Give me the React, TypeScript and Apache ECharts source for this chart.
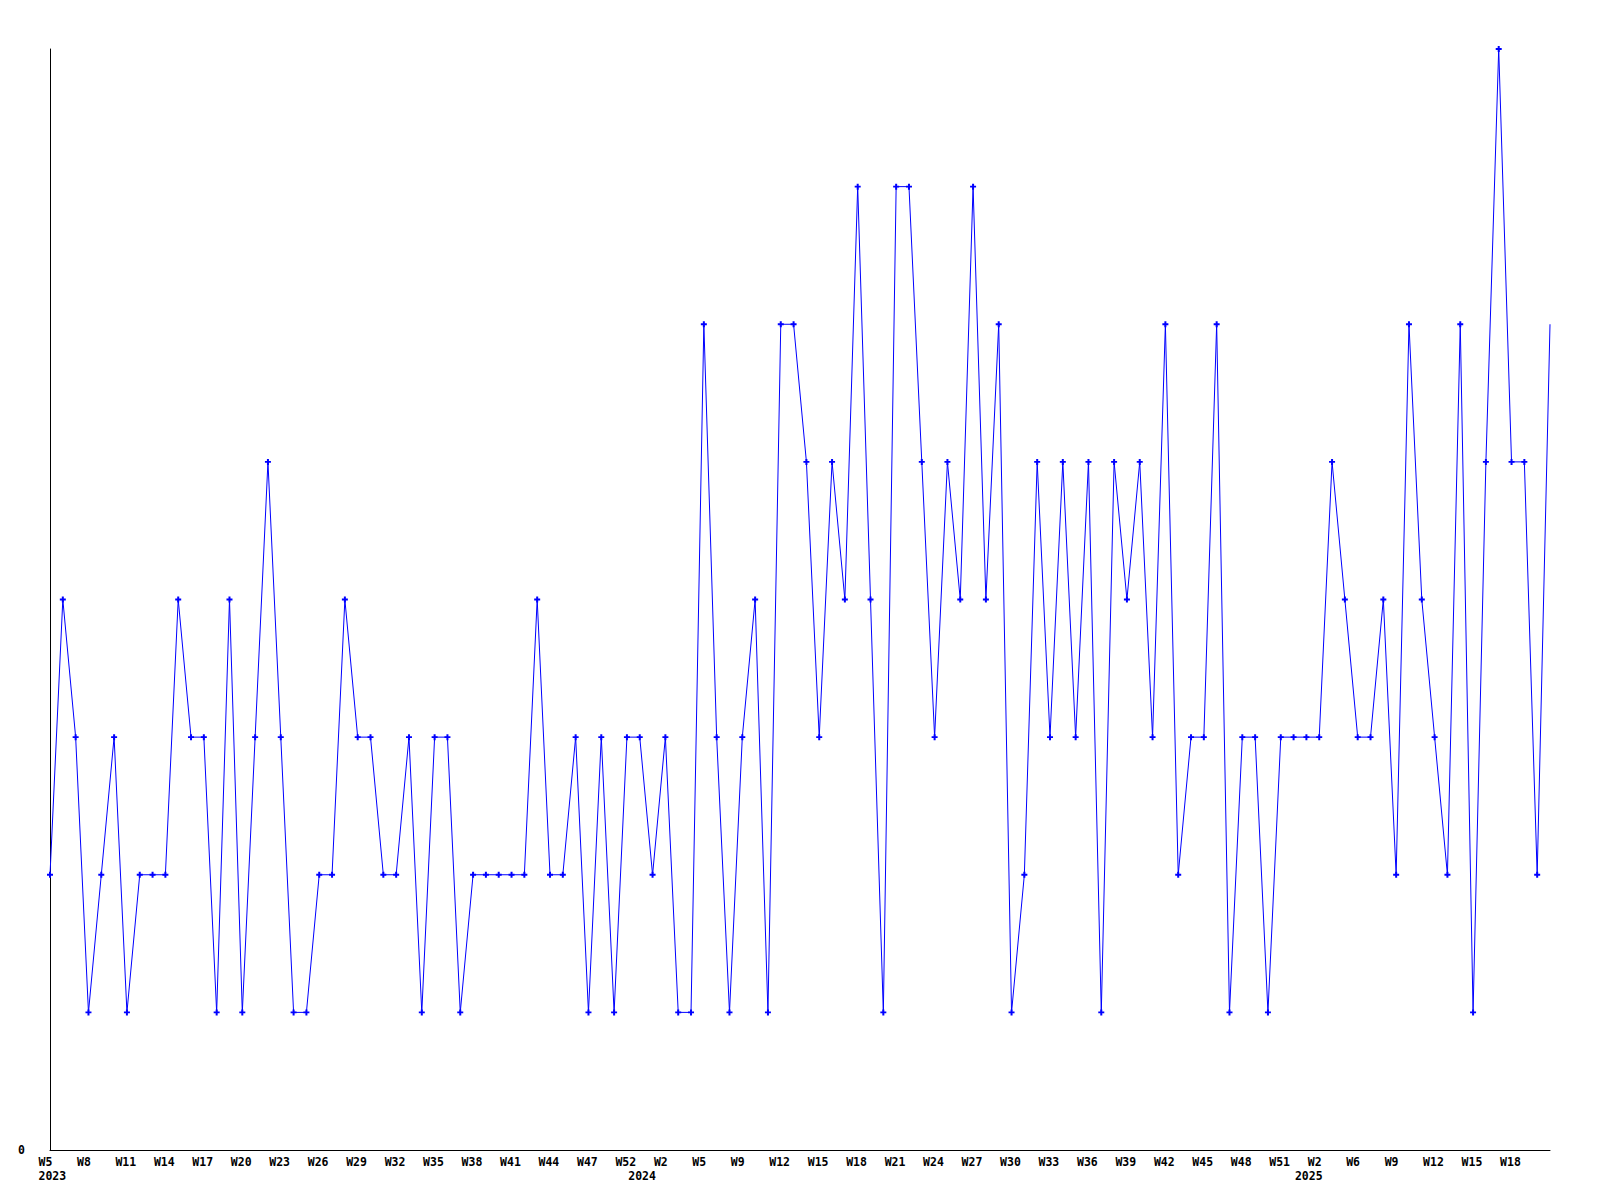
import React, { useEffect, useRef } from "react";
import * as echarts from "echarts";

// One category per weekly point (year-week); only some are shown as labels.
const weeks: string[] = [
  "2023-W05","2023-W06","2023-W07","2023-W08","2023-W09","2023-W10","2023-W11","2023-W12","2023-W13","2023-W14",
  "2023-W15","2023-W16","2023-W17","2023-W18","2023-W19","2023-W20","2023-W21","2023-W22","2023-W23","2023-W24",
  "2023-W25","2023-W26","2023-W27","2023-W28","2023-W29","2023-W30","2023-W31","2023-W32","2023-W33","2023-W34",
  "2023-W35","2023-W36","2023-W37","2023-W38","2023-W39","2023-W40","2023-W41","2023-W42","2023-W43","2023-W44",
  "2023-W45","2023-W46","2023-W47","2023-W49","2023-W51","2023-W52",
  "2024-W00","2024-W01","2024-W02","2024-W03","2024-W04","2024-W05","2024-W06","2024-W08","2024-W09","2024-W10",
  "2024-W11","2024-W12","2024-W13","2024-W14","2024-W15","2024-W16","2024-W17","2024-W18","2024-W19","2024-W20",
  "2024-W21","2024-W22","2024-W23","2024-W24","2024-W25","2024-W26","2024-W27","2024-W28","2024-W29","2024-W30",
  "2024-W31","2024-W32","2024-W33","2024-W34","2024-W35","2024-W36","2024-W37","2024-W38","2024-W39","2024-W40",
  "2024-W41","2024-W42","2024-W43","2024-W44","2024-W45","2024-W46","2024-W47","2024-W48","2024-W49","2024-W50",
  "2024-W51","2024-W52",
  "2025-W01","2025-W02","2025-W03","2025-W05","2025-W06","2025-W07","2025-W08","2025-W09","2025-W10","2025-W11",
  "2025-W12","2025-W13","2025-W14","2025-W15","2025-W16","2025-W17","2025-W18","2025-W19","2025-W20","2025-W21",
];

const values: number[] = [
  2, 4, 3, 1, 2, 3, 1, 2, 2, 2,
  4, 3, 3, 1, 4, 1, 3, 5, 3, 1,
  1, 2, 2, 4, 3, 3, 2, 2, 3, 1,
  3, 3, 1, 2, 2, 2, 2, 2, 4, 2,
  2, 3, 1, 3, 1, 3,
  3, 2, 3, 1, 1, 6, 3, 1, 3, 4,
  1, 6, 6, 5, 3, 5, 4, 7, 4, 1,
  7, 7, 5, 3, 5, 4, 7, 4, 6, 1,
  2, 5, 3, 5, 3, 5, 1, 5, 4, 5,
  3, 6, 2, 3, 3, 6, 1, 3, 3, 1,
  3, 3,
  3, 3, 5, 4, 3, 3, 4, 2, 6, 4,
  3, 2, 6, 1, 5, 8, 5, 5, 2, 6,
];

const yMin = 0;
const yMax = 8;
const labelStep = 3;

const FONT = "'DejaVu Sans Mono', 'Liberation Mono', monospace";

function yearOf(s: string) {
  return s.split("-W")[0];
}
function weekOf(s: string) {
  return "W" + parseInt(s.split("-W")[1], 10);
}
function isYearStart(i: number) {
  return i === 0 || yearOf(weeks[i]) !== yearOf(weeks[i - 1]);
}
function isWeekLabel(i: number) {
  return i % labelStep === 0 && i !== weeks.length - 1;
}

export default function App() {
  const ref = useRef<HTMLDivElement>(null);
  useEffect(() => {
    if (!ref.current) return;
    const chart = echarts.init(ref.current, undefined, { renderer: "svg" });
    const seriesData = values.map((v, i) =>
      i === values.length - 1 ? { value: v, symbol: "none" } : v
    );
    chart.setOption({
      animation: false,
      backgroundColor: "#ffffff",
      grid: { left: 50, right: 50, top: 49, bottom: 50, containLabel: false },
      xAxis: {
        type: "category",
        data: weeks,
        boundaryGap: false,
        axisLine: { show: true, lineStyle: { color: "#000000", width: 1 } },
        axisTick: { show: false },
        splitLine: { show: false },
        axisLabel: {
          interval: (i: number) => isWeekLabel(i) || isYearStart(i),
          margin: 5,
          align: "center",
          formatter: (value: string, i: number) => {
            const w = isWeekLabel(i) ? weekOf(value) : "";
            const y = isYearStart(i) ? yearOf(value) : "";
            return y ? `{w|${w}}\n{w|${y}}` : `{w|${w}}`;
          },
          rich: {
            w: {
              width: 23,
              align: "left",
              fontFamily: FONT,
              fontSize: 11.5,
              fontWeight: "bold",
              color: "#000000",
              lineHeight: 14,
            },
          },
        },
      },
      yAxis: {
        type: "value",
        min: yMin,
        max: yMax,
        interval: yMax - yMin,
        axisLine: { show: true, lineStyle: { color: "#000000", width: 1 } },
        axisTick: { show: false },
        splitLine: { show: false },
        axisLabel: {
          margin: 25,
          fontFamily: FONT,
          fontSize: 11.5,
          fontWeight: "bold",
          color: "#000000",
          formatter: (v: number) => (v === 0 ? "0" : ""),
        },
      },
      series: [
        {
          type: "line",
          data: seriesData,
          showSymbol: true,
          showAllSymbol: true,
          symbol:
            "path://M2,0 L4,0 L4,2 L6,2 L6,4 L4,4 L4,6 L2,6 L2,4 L0,4 L0,2 L2,2 Z",
          symbolSize: 6,
          itemStyle: { color: "#0000ff" },
          lineStyle: { color: "#0000ff", width: 1 },
          emphasis: { disabled: true },
        },
      ],
    });
    return () => chart.dispose();
  }, []);
  return (
    <div
      ref={ref}
      style={{ position: "absolute", left: 0, top: 0, width: 1600, height: 1200, background: "#fff" }}
    />
  );
}
